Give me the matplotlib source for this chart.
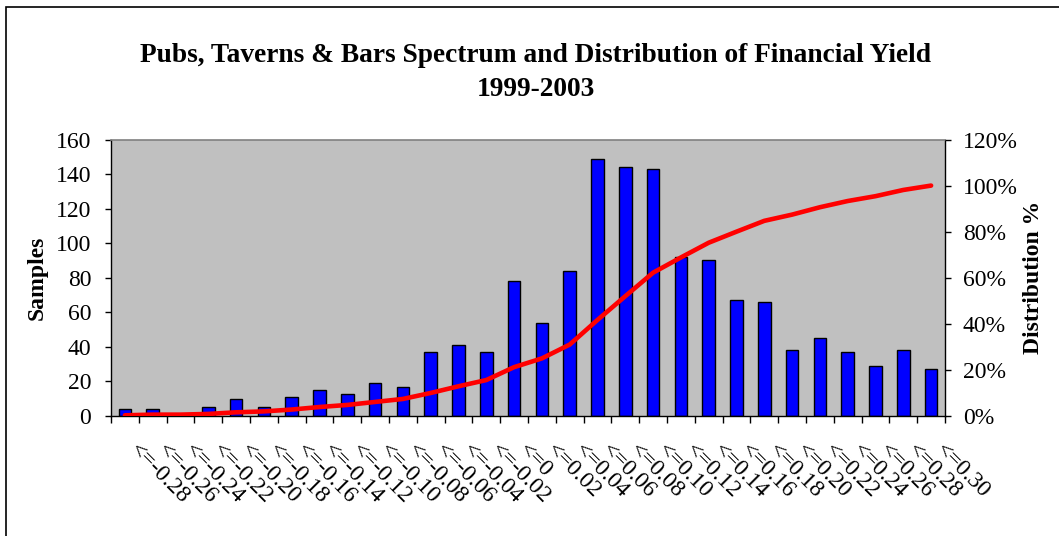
import matplotlib.pyplot as plt
import matplotlib.transforms as mtransforms
from matplotlib.patches import Rectangle
from matplotlib.ticker import FuncFormatter

plt.rcParams['font.family'] = ['Liberation Serif', 'DejaVu Serif']

# yield classes (upper bounds)
bins = ['<=-0.28', '<=-0.26', '<=-0.24', '<=-0.22', '<=-0.20', '<=-0.18',
        '<=-0.16', '<=-0.14', '<=-0.12', '<=-0.10', '<=-0.08', '<=-0.06',
        '<=-0.04', '<=-0.02', '<=0', '<=0.02', '<=0.04', '<=0.06', '<=0.08',
        '<=0.10', '<=0.12', '<=0.14', '<=0.16', '<=0.18', '<=0.20', '<=0.22',
        '<=0.24', '<=0.26', '<=0.28', '<=0.30']

samples = [4, 4, 0, 5, 10, 5, 11, 15, 13, 19, 17, 37, 41, 37, 78,
           54, 84, 149, 144, 143, 92, 90, 67, 66, 38, 45, 37, 29, 38, 27]

# cumulative distribution (%)
distribution = [0.3, 0.6, 0.6, 0.9, 1.6, 2.0, 2.8, 3.9, 4.8, 6.1, 7.4, 10.0,
                12.9, 15.6, 21.2, 25.0, 31.0, 41.7, 52.0, 62.2, 68.8, 75.2,
                80.0, 84.7, 87.4, 90.6, 93.3, 95.4, 98.1, 100.0]

W, H = 1059, 536
fig = plt.figure(figsize=(W / 100, H / 100), dpi=100)
ax = fig.add_axes([111 / W, 1 - 416 / H, (945 - 111) / W, (416 - 139.5) / H])
ax.set_facecolor('#c0c0c0')

x = list(range(len(bins)))
ax.bar(x, samples, width=0.46, color='#0000ff', edgecolor='black', linewidth=1.0, zorder=2)
ax.set_xlim(-0.5, len(bins) - 0.5)
ax.set_ylim(0, 160)
ax.set_yticks(range(0, 161, 20))
ax.tick_params(axis='y', direction='out', length=4.3, width=1, labelsize=17, pad=10)

# category boundary ticks + labels at centres
ax.set_xticks(x)
ax.set_xticklabels(bins)
ax.set_xticks([i - 0.5 for i in range(len(bins) + 1)], minor=True)
ax.tick_params(axis='x', which='major', length=0, labelsize=17, pad=17)
ax.tick_params(axis='x', which='minor', length=5, width=1, direction='out')
shift = mtransforms.ScaledTranslation(15 / 100, 0, fig.dpi_scale_trans)
for lab in ax.get_xticklabels():
    lab.set_rotation(-45)
    lab.set_ha('left')
    lab.set_va('top')
    lab.set_rotation_mode('anchor')
    lab.set_transform(lab.get_transform() + shift)

for side in ['left', 'bottom', 'right']:
    ax.spines[side].set_color('black')
    ax.spines[side].set_linewidth(1.0)
ax.spines['top'].set_color('#808080')
ax.spines['top'].set_linewidth(1.2)

ax2 = ax.twinx()
ax2.plot(x, distribution, color='#ff0000', linewidth=3.3, solid_joinstyle='round',
         solid_capstyle='round', zorder=3)
ax2.set_ylim(0, 120)
ax2.set_yticks(range(0, 121, 20))
ax2.yaxis.set_major_formatter(FuncFormatter(lambda v, p: '%d%%' % v))
ax2.tick_params(axis='y', direction='out', length=4.3, width=1, labelsize=17, pad=8.6)
for s in ax2.spines.values():
    s.set_visible(False)

ax.set_ylabel('Samples', fontsize=17, fontweight='bold', labelpad=6)
ax2.set_ylabel('Distribution %', fontsize=17, fontweight='bold', labelpad=4)

fig.text(536 / W, 1 - 55 / H, 'Pubs, Taverns & Bars Spectrum and Distribution of Financial Yield',
         ha='center', va='center', fontsize=19.7, fontweight='bold')
fig.text(536 / W, 1 - 90 / H, '1999-2003', ha='center', va='center',
         fontsize=19.7, fontweight='bold')

# outer chart frame
fig.patches.append(Rectangle((6 / W, -0.2), 1.2, 1.2 - 7 / H,
                             transform=fig.transFigure, fill=False,
                             edgecolor='black', linewidth=1.2))

fig.savefig('out.png', dpi=100)
